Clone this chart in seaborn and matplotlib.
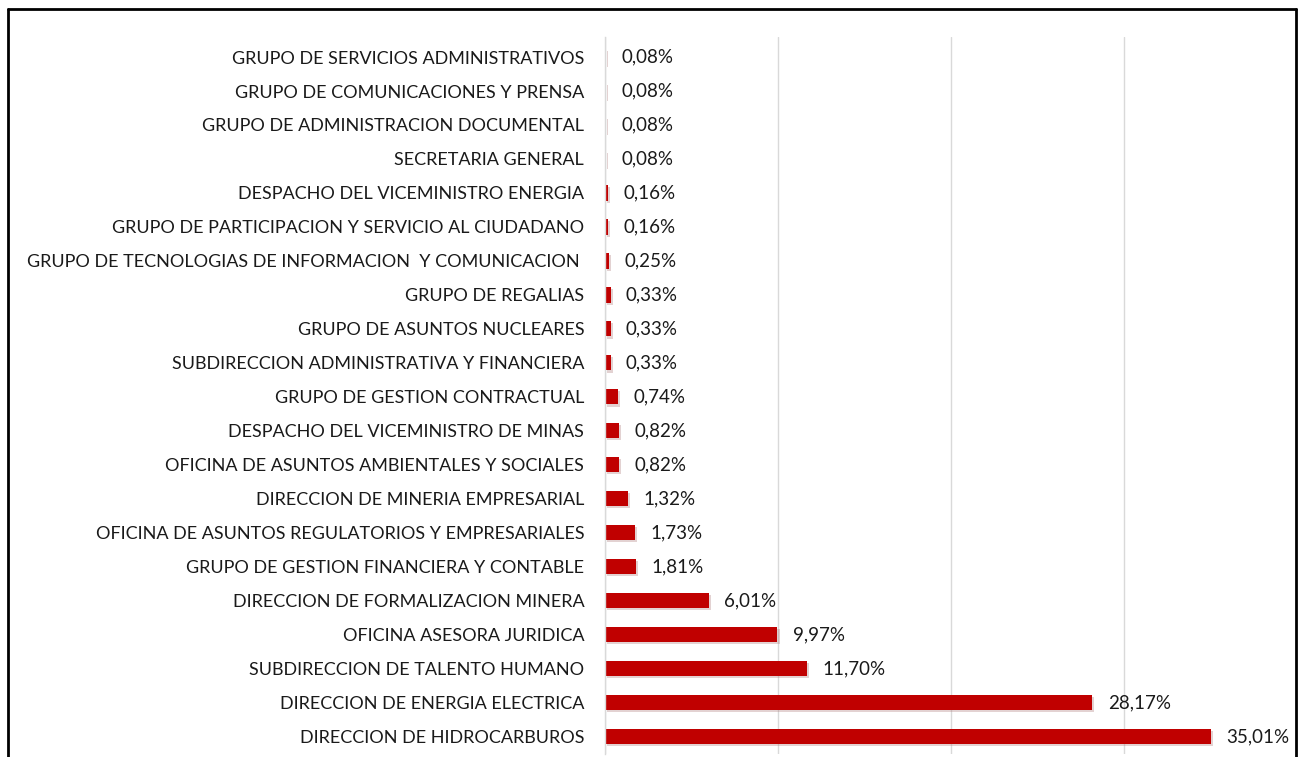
import matplotlib
matplotlib.use("Agg")
import matplotlib.pyplot as plt
import matplotlib.patheffects as pe
from matplotlib.lines import Line2D
import seaborn as sns
import pandas as pd

categories = [
    "GRUPO DE SERVICIOS ADMINISTRATIVOS",
    "GRUPO DE COMUNICACIONES Y PRENSA",
    "GRUPO DE ADMINISTRACION DOCUMENTAL",
    "SECRETARIA GENERAL",
    "DESPACHO DEL VICEMINISTRO ENERGIA",
    "GRUPO DE PARTICIPACION Y SERVICIO AL CIUDADANO",
    "GRUPO DE TECNOLOGIAS DE INFORMACION  Y COMUNICACION ",
    "GRUPO DE REGALIAS",
    "GRUPO DE ASUNTOS NUCLEARES",
    "SUBDIRECCION ADMINISTRATIVA Y FINANCIERA",
    "GRUPO DE GESTION CONTRACTUAL",
    "DESPACHO DEL VICEMINISTRO DE MINAS",
    "OFICINA DE ASUNTOS AMBIENTALES Y SOCIALES",
    "DIRECCION DE MINERIA EMPRESARIAL",
    "OFICINA DE ASUNTOS REGULATORIOS Y EMPRESARIALES",
    "GRUPO DE GESTION FINANCIERA Y CONTABLE",
    "DIRECCION DE FORMALIZACION MINERA",
    "OFICINA ASESORA JURIDICA",
    "SUBDIRECCION DE TALENTO HUMANO",
    "DIRECCION DE ENERGIA ELECTRICA",
    "DIRECCION DE HIDROCARBUROS",
]
values = [0.08, 0.08, 0.08, 0.08, 0.16, 0.16, 0.25, 0.33, 0.33, 0.33, 0.74,
          0.82, 0.82, 1.32, 1.73, 1.81, 6.01, 9.97, 11.70, 28.17, 35.01]
x_ticks = [0, 10, 20, 30, 40]

df = pd.DataFrame({"cat": categories, "val": values})

sns.set_theme(style="white")
plt.rcParams["font.family"] = ["Lato", "DejaVu Sans"]

W, H = 1303, 757
fig = plt.figure(figsize=(W / 100, H / 100), dpi=100)
top_px, bot_px = 37, 753.5
ax = fig.add_axes([605 / W, 1 - bot_px / H, (1297 - 605) / W, (bot_px - top_px) / H])

bar_color = "#C00000"
sns.barplot(data=df, x="val", y="cat", orient="h", color=bar_color,
            width=0.45, ax=ax, saturation=1)
for p in ax.patches:
    p.set_linewidth(0)
    p.set_path_effects([pe.SimplePatchShadow(offset=(1.5, -1.5), shadow_rgbFace="#B08080", alpha=0.35),
                        pe.Normal()])

ax.set_xlim(0, 40)
ax.set_ylim(len(categories) - 0.5, -0.59)
ax.set_xticks(x_ticks)
ax.set_xticklabels([])
ax.tick_params(axis="x", length=0)
ax.xaxis.grid(True, color="#D9D9D9", linewidth=1)
ax.set_axisbelow(True)
ax.set_xlabel("")
ax.set_ylabel("")
for s in ["top", "right", "bottom"]:
    ax.spines[s].set_visible(False)
ax.spines["left"].set_color("#D9D9D9")
ax.spines["left"].set_linewidth(1)
ax.tick_params(axis="y", length=0, pad=15, labelsize=13, labelcolor="#1a1a1a")

for i, v in enumerate(values):
    ax.annotate(f"{v:.2f}".replace(".", ",") + "%", xy=(v, i), xytext=(11, 0),
                textcoords="offset points", va="center", ha="left",
                fontsize=13.5, color="#1a1a1a")

# outer frame (left, top, right)
lw = 2
fig.add_artist(Line2D([8 / W, 8 / W], [0, 1 - 9 / H], color="black", lw=lw, transform=fig.transFigure))
fig.add_artist(Line2D([8 / W, 1296 / W], [1 - 9 / H, 1 - 9 / H], color="black", lw=lw, transform=fig.transFigure))
fig.add_artist(Line2D([1296 / W, 1296 / W], [0, 1 - 9 / H], color="black", lw=lw, transform=fig.transFigure))

fig.savefig("out.png", dpi=100)
